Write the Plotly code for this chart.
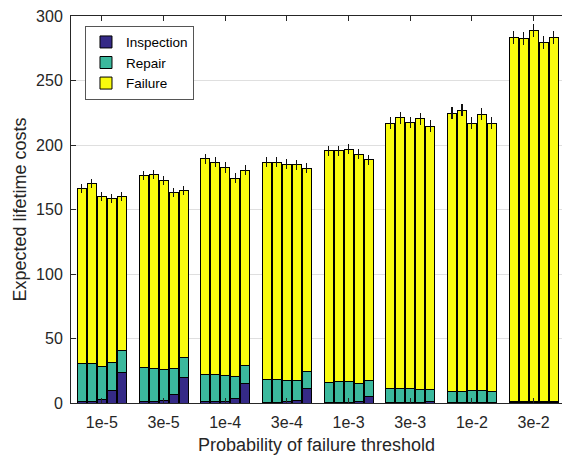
import plotly.graph_objects as go

groups = ['1e-5', '3e-5', '1e-4', '3e-4', '1e-3', '3e-3', '1e-2', '3e-2']
n_per_group = 5

inspection = [
    [1.0, 1.0, 3.1, 10.0, 23.3],
    [1.0, 1.0, 2.1, 6.8, 19.6],
    [0.8, 0.8, 1.5, 3.6, 15.3],
    [0.7, 0.7, 0.8, 2.1, 11.4],
    [0.6, 0.6, 0.7, 1.5, 5.4],
    [0.5, 0.5, 0.5, 0.6, 1.5],
    [0.4, 0.4, 0.4, 0.4, 0.5],
    [0.3, 0.3, 0.3, 0.3, 0.3],
]
repair = [
    [29.3, 29.3, 25.4, 21.6, 17.3],
    [26.2, 26.0, 23.8, 20.2, 15.3],
    [21.2, 21.2, 19.7, 16.8, 14.0],
    [17.7, 17.7, 17.0, 15.2, 13.4],
    [15.2, 15.7, 15.6, 14.0, 11.7],
    [10.4, 10.4, 10.4, 10.0, 8.6],
    [8.9, 8.6, 9.1, 9.1, 8.3],
    [0.7, 0.7, 0.7, 0.7, 0.7],
]
failure = [
    [136.3, 139.7, 131.6, 126.7, 119.8],
    [149.0, 150.2, 146.9, 136.5, 129.6],
    [167.4, 164.8, 161.4, 154.0, 151.3],
    [168.4, 168.4, 167.4, 167.4, 157.3],
    [179.6, 179.3, 180.6, 177.5, 171.5],
    [206.1, 210.1, 206.4, 209.6, 204.6],
    [215.5, 217.9, 207.5, 214.5, 208.2],
    [282.6, 281.5, 288.0, 278.2, 282.5],
]
total_error = [
    [3.5, 3.5, 3.5, 3.5, 3.5],
    [3.5, 3.5, 3.5, 3.5, 3.5],
    [4.0, 4.0, 4.0, 4.0, 4.0],
    [4.0, 4.0, 4.0, 4.0, 4.0],
    [4.0, 4.0, 4.0, 4.0, 4.0],
    [4.5, 4.5, 4.5, 4.5, 4.5],
    [4.5, 4.5, 4.5, 4.5, 4.5],
    [5.0, 5.0, 5.0, 5.0, 5.0],
]

colors = {'Inspection': '#352A87', 'Repair': '#3BB99D', 'Failure': '#F9FB0E'}

bar_step = 0.162
bar_width = 0.146

xs = []
for g in range(len(groups)):
    for k in range(n_per_group):
        xs.append(g + 1 + (k - (n_per_group - 1) / 2) * bar_step)

def flat(a):
    return [v for row in a for v in row]

fig = go.Figure()
series = [('Inspection', inspection, None), ('Repair', repair, None), ('Failure', failure, total_error)]
for name, vals, err in series:
    kw = {}
    if err is not None:
        kw['error_y'] = dict(type='data', array=flat(err), visible=True,
                             color='#111111', thickness=1.1, width=0)
    fig.add_trace(go.Bar(
        x=xs, y=flat(vals), name=name, width=bar_width,
        marker=dict(color=colors[name], line=dict(color='black', width=1)),
        **kw))

axis_col = '#262626'
fig.update_layout(
    barmode='stack',
    width=562, height=459,
    margin=dict(l=71, r=0, t=16, b=56),
    plot_bgcolor='white', paper_bgcolor='white',
    font=dict(family='Liberation Sans, Arial, sans-serif', color=axis_col, size=16),
    legend=dict(
        x=0.0285, y=0.975, xanchor='left', yanchor='top',
        traceorder='normal',
        bgcolor='white', bordercolor='#555555', borderwidth=1,
        font=dict(size=13.5, color='black'),
        itemwidth=30, tracegroupgap=0,
    ),
    showlegend=True,
)
fig.update_xaxes(
    range=[0.5, 8.46],
    tickmode='array', tickvals=list(range(1, len(groups) + 1)), ticktext=groups,
    ticks='inside', ticklen=5, tickcolor=axis_col, tickwidth=1,
    showline=True, linecolor=axis_col, linewidth=1, mirror='ticks',
    showgrid=False, zeroline=False,
    tickfont=dict(size=16), ticklabelstandoff=5,
    title=dict(text='Probability of failure threshold', font=dict(size=18), standoff=8),
)
fig.update_yaxes(
    range=[0, 300], tickvals=[0, 50, 100, 150, 200, 250, 300],
    ticks='inside', ticklen=5, tickcolor=axis_col, tickwidth=1,
    showline=True, linecolor=axis_col, linewidth=1, mirror=False,
    showgrid=True, gridcolor='#DFDFDF', gridwidth=1, zeroline=False,
    tickfont=dict(size=16), ticklabelstandoff=4,
    title=dict(text='Expected lifetime costs', font=dict(size=18), standoff=4),
)

fig.write_html('out.html')
